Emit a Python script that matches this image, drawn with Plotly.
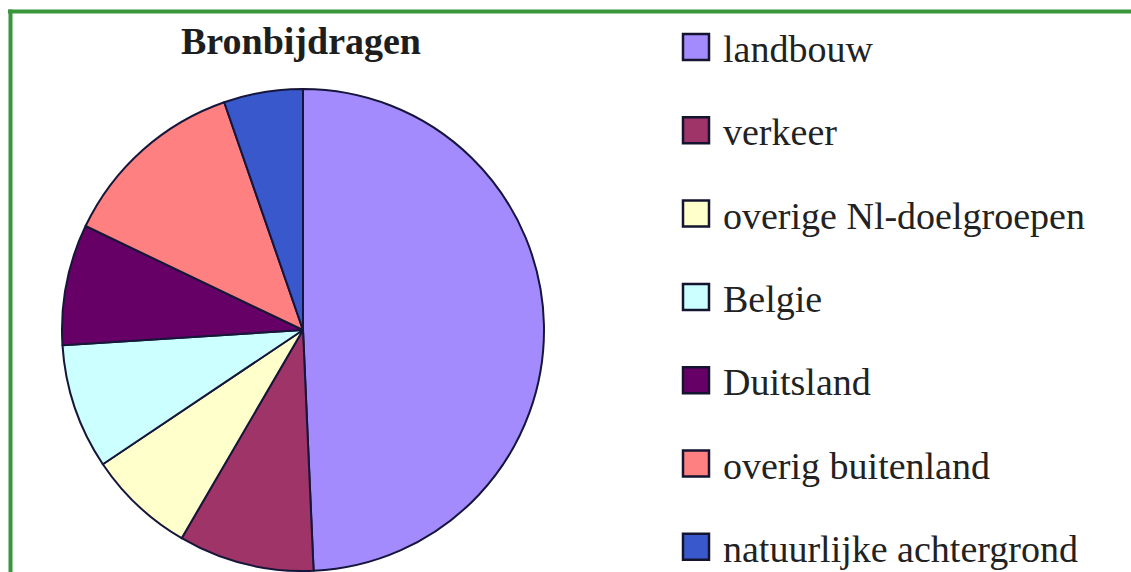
import plotly.graph_objects as go

# Source contributions (percent of total deposition)
labels = ["landbouw", "verkeer", "overige Nl-doelgroepen", "Belgie",
          "Duitsland", "overig buitenland", "natuurlijke achtergrond"]
values = [49.3, 9.1, 7.2, 8.4, 8.1, 12.6, 5.3]
colors = ["#A38BFD", "#9E3468", "#FFFFCC", "#CCFFFF",
          "#660066", "#FF8080", "#3858CC"]
title_text = "Bronbijdragen"

W, H = 1131, 572
px = lambda x: x / W
py = lambda y: 1 - y / H

# pie placement (pixels)
cx, cy, r = 303, 330, 241

fig = go.Figure(go.Pie(
    labels=labels,
    values=values,
    marker=dict(colors=colors, line=dict(color="#16163a", width=2)),
    sort=False,
    direction="clockwise",
    rotation=0,
    textinfo="none",
    hoverinfo="label+percent",
    showlegend=False,
    domain=dict(x=[px(cx - r), px(cx + r)], y=[py(cy + r), py(cy - r)]),
))

shapes = []
annotations = []

# legend: coloured squares with labels
leg_x0, sq = 683, 26
leg_y0, leg_dy = 47, 83.3
for i, (lab, col) in enumerate(zip(labels, colors)):
    yc = leg_y0 + i * leg_dy
    shapes.append(dict(
        type="rect", xref="paper", yref="paper",
        x0=px(leg_x0), x1=px(leg_x0 + sq),
        y0=py(yc + sq / 2), y1=py(yc - sq / 2),
        fillcolor=col, line=dict(color="#141430", width=2.5),
    ))
    annotations.append(dict(
        text=lab, xref="paper", yref="paper",
        x=px(leg_x0 + sq + 12), y=py(yc + 2),
        xanchor="left", yanchor="middle", showarrow=False,
        font=dict(family="Liberation Serif", size=38, color="#222222"),
    ))

# chart title
annotations.append(dict(
    text="<b>" + title_text + "</b>", xref="paper", yref="paper",
    x=px(301), y=py(41), xanchor="center", yanchor="middle", showarrow=False,
    font=dict(family="Liberation Serif", size=38, color="#1e1e1e"),
))

# green frame (top and left edges)
shapes.append(dict(type="line", xref="paper", yref="paper",
                   x0=px(8), x1=1, y0=py(11.5), y1=py(11.5),
                   line=dict(color="#3a963a", width=4)))
shapes.append(dict(type="line", xref="paper", yref="paper",
                   x0=px(10.5), x1=px(10.5), y0=py(9.5), y1=0,
                   line=dict(color="#3a963a", width=4)))

fig.update_layout(
    width=W, height=H,
    margin=dict(l=0, r=0, t=0, b=0),
    paper_bgcolor="#FFFFFF",
    plot_bgcolor="#FFFFFF",
    shapes=shapes,
    annotations=annotations,
)

fig.write_html("out.html")
